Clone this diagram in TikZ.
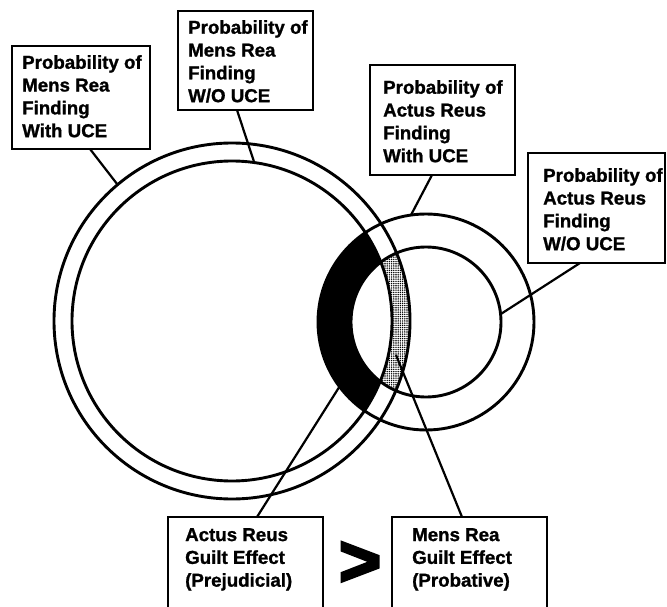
\documentclass[tikz,border=0pt]{standalone}
\usepackage{fontspec}
\setmainfont{Liberation Sans}
\newfontfamily\lblfont[FakeBold=1.2]{Liberation Sans Bold}
\newfontfamily\gtfont[FakeBold=4]{Liberation Sans Bold}
\usetikzlibrary{calc,patterns.meta}
\begin{document}
\begin{tikzpicture}[x=1pt,y=-1pt,
  ring/.style={circle, draw, line width=2.9pt, inner sep=0pt, outer sep=0pt},
  box/.style={draw, line width=1.8pt, rectangle, inner sep=0pt, outer sep=0pt, anchor=north west},
  openbox/.style={rectangle, inner sep=0pt, outer sep=0pt, anchor=north west},
  boxline/.style={line width=1.8pt},
  lbl/.style={anchor=north west, inner sep=0pt, align=left,
    font=\lblfont\fontsize{18.7}{22.8}\selectfont},
  leader/.style={line width=2.2pt}]
\useasboundingbox (0,0) rectangle (667,607);

% Actus reus gain inside the mens rea circle (solid)
\begin{scope}
  \clip (232,321) circle[radius=160pt];
  \fill[even odd rule] (426,322) circle[radius=108pt] (426,322) circle[radius=75pt];
\end{scope}
% Mens rea gain inside the actus reus circle (stippled)
\begin{scope}
  \clip (426,322) circle[radius=75pt];
  \fill[pattern={Dots[radius=0.8pt,distance=2.2pt]}, even odd rule]
    (232,321) circle[radius=178pt] (232,321) circle[radius=160pt];
\end{scope}

% Circles
\node[ring, minimum size=356pt] (mrw) at (232,321) {};
\node[ring, minimum size=320pt] (mrn) at (232,321) {};
\node[ring, minimum size=216pt] (arw) at (426,322) {};
\node[ring, minimum size=150pt] (arn) at (426,322) {};

% Top label boxes
\node[box, minimum width=138pt, minimum height=103pt] (b1) at (12,46) {};
\node[lbl] (t1) at (22,55) {Probability of\\Mens Rea\\Finding\\With UCE};
\node[box, minimum width=135pt, minimum height=99pt] (b2) at (178,11) {};
\node[lbl] (t2) at (188,20) {Probability of\\Mens Rea\\Finding\\W/O UCE};
\node[box, minimum width=145pt, minimum height=110pt] (b3) at (370,65) {};
\node[lbl] (t3) at (383,80) {Probability of\\Actus Reus\\Finding\\With UCE};
\node[box, minimum width=137pt, minimum height=110pt] (b4) at (528,153) {};
\node[lbl] (t4) at (543,168) {Probability of\\Actus Reus\\Finding\\W/O UCE};

% Bottom boxes, open at the foot
\node[openbox, minimum width=155pt, minimum height=100pt] (b5) at (168,517) {};
\draw[boxline] (b5.south west) -- (b5.north west) -- (b5.north east) -- (b5.south east);
\node[lbl] (t5) at (185,528) {Actus Reus\\Guilt Effect\\(Prejudicial)};
\node[openbox, minimum width=155pt, minimum height=100pt] (b6) at (392,517) {};
\draw[boxline] (b6.south west) -- (b6.north west) -- (b6.north east) -- (b6.south east);
\node[lbl] (t6) at (412,528) {Mens Rea\\Guilt Effect\\(Probative)};

\node[inner sep=0pt, font=\gtfont\fontsize{72}{72}\selectfont] (gt) at (360,564) {>};

% Leaders
\coordinate (g5) at (350,370);
\coordinate (g6) at (396,355);
\draw[leader] ($(b1.south west)+(78,0)$) -- (mrw.130);
\draw[leader] ($(b2.south west)+(59,0)$) -- (mrn.82.5);
\draw[leader] ($(b3.south west)+(62,0)$) -- (arw.98.6);
\draw[leader] ($(b4.south west)+(52,0)$) -- (arn.6.7);
\draw[leader] ($(b5.north west)+(89,0)$) -- (g5);
\draw[leader] ($(b6.north west)+(70,0)$) -- (g6);
\end{tikzpicture}
\end{document}
